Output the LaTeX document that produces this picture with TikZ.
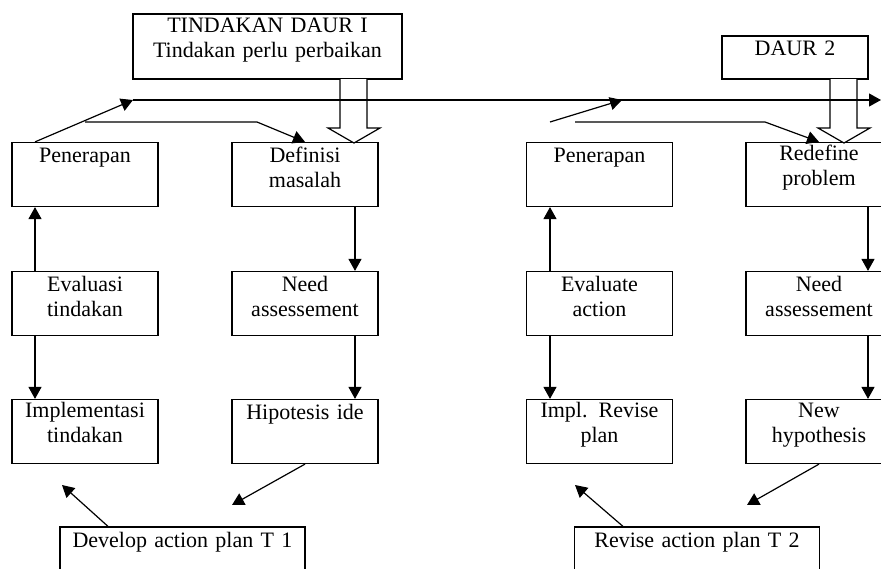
\documentclass[tikz,border=0pt]{standalone}
\usepackage{fontspec}
\setmainfont{Liberation Serif}
\usetikzlibrary{arrows.meta}
\begin{document}
\begin{tikzpicture}[x=1pt,y=-1pt,line width=1.2pt,
	box/.style={draw, inner sep=0pt, align=center, text width=146pt, text height=20pt, text depth=44pt, font=\fontsize{22}{25}\selectfont},
	arr/.style={-{Triangle[length=12pt,width=13pt]}},
	fat/.style={draw, fill=white, line join=miter}]
	\useasboundingbox (0,0) rectangle (881,568);
	\clip (0,0) rectangle (881,568);
	% daur 1
	\node (tind) at (267.5, 46.5)	[box, text width=269pt, text height=18pt, text depth=47pt]	{TINDAKAN DAUR I\\Tindakan perlu perbaikan};
	\node (pen1) at ( 85, 174.5)	[box]	{Penerapan};
	\node (def1) at (305, 174.5)	[box]	{Definisi\\masalah};
	\node (eva1) at ( 85, 303.5)	[box]	{Evaluasi\\tindakan};
	\node (need1) at (305, 303.5)	[box]	{Need\\assessement};
	\node (imp1) at ( 85, 431.5)	[box, text height=18pt, text depth=46pt]	{Implementasi\\tindakan};
	\node (hip1) at (305, 431.5)	[box]	{Hipotesis ide};
	\node (dev) at (182.5, 557)	[box, text width=245pt, text depth=40pt]	{Develop action plan T 1};
	% daur 2
	\node (daur2) at (795, 57.5)	[box, text height=19pt, text depth=24pt]	{DAUR 2};
	\node (pen2) at (599.5, 174.5)	[box]	{Penerapan};
	\node (red2) at (819, 174.5)	[box, text height=18pt, text depth=46pt]	{Redefine\\problem};
	\node (eva2) at (599.5, 303.5)	[box]	{Evaluate\\action};
	\node (need2) at (819, 303.5)	[box]	{Need\\assessement};
	\node (imp2) at (599.5, 431.5)	[box, text height=18pt, text depth=46pt]	{Impl. Revise\\plan};
	\node (new2) at (819, 431.5)	[box, text height=18pt, text depth=46pt]	{New\\hypothesis};
	\node (rev) at (697, 557)	[box, text width=245pt, text depth=40pt]	{Revise action plan T 2};
	% free ends
	\coordinate (xl1) at (35,0);
	\coordinate (xr1) at (355,0);
	\coordinate (xl2) at (550,0);
	\coordinate (xr2) at (868,0);
	\coordinate (xd1) at (108,0);
	\coordinate (xd2) at (623,0);
	\coordinate (top1) at (133,100);
	\coordinate (topEnd) at (881,100);
	\coordinate (fb1) at (85,122);
	\coordinate (fb1b) at (257,122);
	\coordinate (up2a) at (550,122);
	\coordinate (up2b) at (622,100);
	\coordinate (fb2) at (575,122);
	\coordinate (fb2b) at (765,122);
	\coordinate (tip1) at (62,485);
	\coordinate (tip1b) at (232,505);
	\coordinate (tip2) at (575,485);
	\coordinate (tip2b) at (747,505);
	% hollow arrows
	\draw[fat] (340,79) -- (340,128) -- (328,128) -- (354,143) -- (380,128) -- (367,128) -- (367,79);
	\draw[fat] (830,79) -- (830,128) -- (818,128) -- (844,143) -- (870,128) -- (857,128) -- (857,79);
	% connectors
	\draw[arr] (pen1.north -| xl1) -- (top1);
	\draw[arr] (top1) -- (topEnd);
	\draw[arr] (fb1) -- (fb1b) -- (def1.north);
	\draw[arr] (eva1.north -| xl1) -- (pen1.south -| xl1);
	\draw[arr] (eva1.south -| xl1) -- (imp1.north -| xl1);
	\draw[arr] (def1.south -| xr1) -- (need1.north -| xr1);
	\draw[arr] (need1.south -| xr1) -- (hip1.north -| xr1);
	\draw[arr] (dev.north -| xd1) -- (tip1);
	\draw[arr] (hip1.south) -- (tip1b);
	\draw[arr] (up2a) -- (up2b);
	\draw[arr] (fb2) -- (fb2b) -- (red2.north);
	\draw[arr] (eva2.north -| xl2) -- (pen2.south -| xl2);
	\draw[arr] (eva2.south -| xl2) -- (imp2.north -| xl2);
	\draw[arr] (red2.south -| xr2) -- (need2.north -| xr2);
	\draw[arr] (need2.south -| xr2) -- (new2.north -| xr2);
	\draw[arr] (rev.north -| xd2) -- (tip2);
	\draw[arr] (new2.south) -- (tip2b);
\end{tikzpicture}
\end{document}
